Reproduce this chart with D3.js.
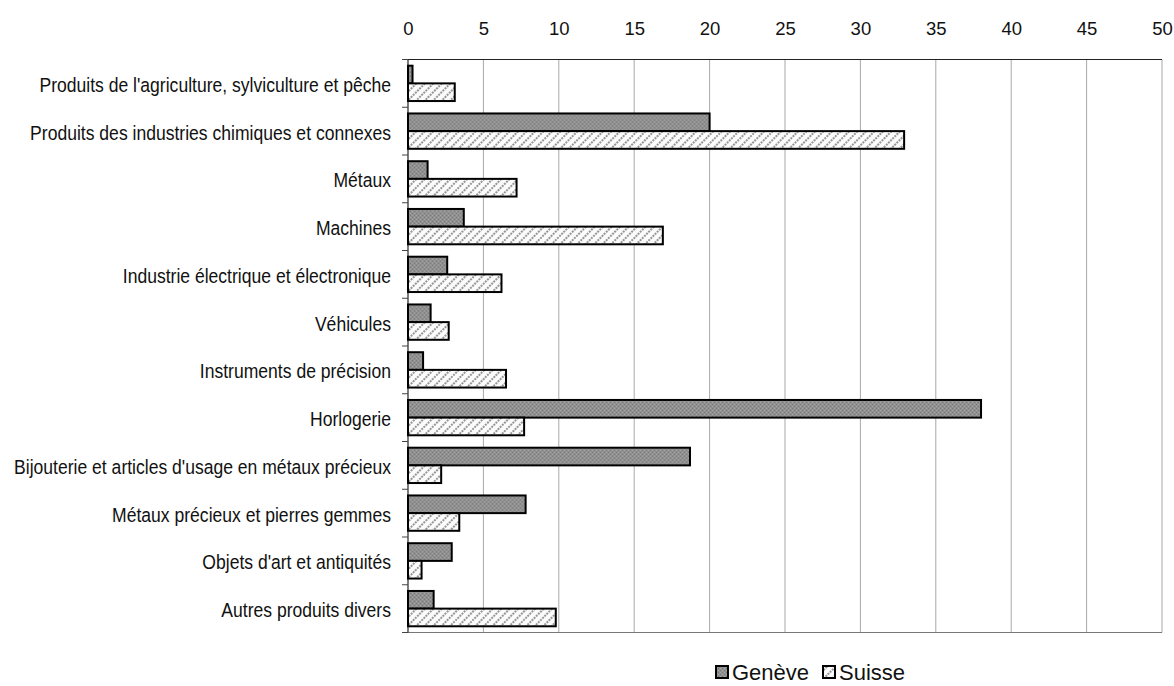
<!DOCTYPE html>
<html>
<head>
<meta charset="utf-8">
<script src="https://cdn.jsdelivr.net/npm/d3@7"></script>
<style>
  body { margin: 0; background: #fff; }
  svg { font-family: "Liberation Sans", Arial, sans-serif; }
</style>
</head>
<body>
<script>

// categories, top to bottom
var categories = [
    "Produits de l'agriculture, sylviculture et pêche",
    "Produits des industries chimiques et connexes",
    "Métaux",
    "Machines",
    "Industrie électrique et électronique",
    "Véhicules",
    "Instruments de précision",
    "Horlogerie",
    "Bijouterie et articles d'usage en métaux précieux",
    "Métaux précieux et pierres gemmes",
    "Objets d'art et antiquités",
    "Autres produits divers"
];
var seriesNames = ["Genève", "Suisse"];
var geneve = [0.3, 20.0, 1.3, 3.7, 2.6, 1.5, 1.0, 38.0, 18.7, 7.8, 2.9, 1.7];
var suisse = [3.1, 32.9, 7.2, 16.9, 6.2, 2.7, 6.5, 7.7, 2.2, 3.4, 0.9, 9.8];
var tickValues = [0, 5, 10, 15, 20, 25, 30, 35, 40, 45, 50];

var W = 1174, H = 686;
var plotLeft = 408, plotRight = 1162, plotTop = 59.5, plotBottom = 632.5;

var svg = d3.select("body").append("svg")
    .attr("width", W)
    .attr("height", H);

// fills: stippled grey for Genève, diagonal hatch for Suisse
var defs = svg.append("defs");
var dots = defs.append("pattern")
    .attr("id", "stipple")
    .attr("patternUnits", "userSpaceOnUse")
    .attr("width", 4).attr("height", 4);
dots.append("rect").attr("width", 4).attr("height", 4).attr("fill", "#909090");
dots.append("rect").attr("x", 0).attr("y", 0).attr("width", 1).attr("height", 1).attr("fill", "#777");
dots.append("rect").attr("x", 2).attr("y", 2).attr("width", 1).attr("height", 1).attr("fill", "#777");
dots.append("rect").attr("x", 2).attr("y", 0).attr("width", 1).attr("height", 1).attr("fill", "#a6a6a6");
dots.append("rect").attr("x", 0).attr("y", 2).attr("width", 1).attr("height", 1).attr("fill", "#a6a6a6");

var hatch = defs.append("pattern")
    .attr("id", "hatch")
    .attr("patternUnits", "userSpaceOnUse")
    .attr("width", 6).attr("height", 6)
    .attr("patternTransform", "rotate(45)");
hatch.append("rect").attr("width", 6).attr("height", 6).attr("fill", "#fbfbfb");
hatch.append("line")
    .attr("x1", 1).attr("y1", 0).attr("x2", 1).attr("y2", 6)
    .attr("stroke", "#555").attr("stroke-width", 1.2)
    .attr("stroke-dasharray", "2,1");

var fills = {"Genève": "url(#stipple)", "Suisse": "url(#hatch)"};

var x = d3.scaleLinear().domain([0, 50]).range([plotLeft, plotRight]);
var y = d3.scaleBand().domain(categories).range([plotTop, plotBottom])
    .paddingInner(0.26).paddingOuter(0.13);
var ySub = d3.scaleBand().domain(seriesNames).range([0, y.bandwidth()]);

// vertical gridlines
svg.append("g")
    .selectAll("line")
    .data(tickValues.slice(1))
    .join("line")
    .attr("x1", d => x(d)).attr("x2", d => x(d))
    .attr("y1", plotTop).attr("y2", plotBottom)
    .attr("stroke", "#a8a8a8")
    .attr("stroke-width", 1);

// top axis
var xAxis = d3.axisTop(x).tickValues(tickValues).tickSize(0).tickPadding(0);
var gx = svg.append("g")
    .attr("transform", "translate(0," + plotTop + ")")
    .call(xAxis);
gx.select(".domain").remove();
gx.selectAll("text")
    .attr("y", -25)
    .attr("font-size", "18.5px")
    .attr("fill", "#111")
    .attr("font-family", "Liberation Sans, Arial, sans-serif");
svg.append("line")
    .attr("x1", plotLeft - 6).attr("x2", plotRight)
    .attr("y1", plotTop).attr("y2", plotTop)
    .attr("stroke", "#222").attr("stroke-width", 1.2);

// bottom border
svg.append("line")
    .attr("x1", plotLeft - 6).attr("x2", plotRight)
    .attr("y1", plotBottom).attr("y2", plotBottom)
    .attr("stroke", "#777").attr("stroke-width", 1.2);

// left axis with category ticks at band edges
svg.append("line")
    .attr("x1", plotLeft).attr("x2", plotLeft)
    .attr("y1", plotTop).attr("y2", plotBottom)
    .attr("stroke", "#222").attr("stroke-width", 1.2);
var step = y.step();
svg.append("g")
    .selectAll("line")
    .data(d3.range(categories.length + 1))
    .join("line")
    .attr("x1", plotLeft - 6).attr("x2", plotLeft)
    .attr("y1", i => plotTop + i * step).attr("y2", i => plotTop + i * step)
    .attr("stroke", "#444").attr("stroke-width", 1);

// category labels (slightly condensed, like the original)
svg.append("g")
    .selectAll("text")
    .data(categories)
    .join("text")
    .attr("transform", d => "translate(" + (plotLeft - 17) + "," + (y(d) + y.bandwidth() / 2 + 8.5) + ") scale(0.9,1)")
    .attr("text-anchor", "end")
    .attr("font-size", "19.5px")
    .attr("fill", "#111")
    .text(d => d);

// bars
var rows = categories.map(function(c, i) {
    return {cat: c, vals: [{s: "Genève", v: geneve[i]}, {s: "Suisse", v: suisse[i]}]};
});

var groups = svg.append("g")
    .selectAll("g")
    .data(rows)
    .join("g")
    .attr("transform", d => "translate(0," + y(d.cat) + ")");

groups.selectAll("rect")
    .data(d => d.vals)
    .join("rect")
    .attr("x", x(0))
    .attr("y", d => ySub(d.s))
    .attr("width", d => x(d.v) - x(0))
    .attr("height", ySub.bandwidth())
    .attr("fill", d => fills[d.s])
    .attr("stroke", "#000")
    .attr("stroke-width", 2);

// legend
var legend = svg.append("g").attr("transform", "translate(716,666)");
var legX = [0, 107];
seriesNames.forEach(function(s, i) {
    legend.append("rect")
        .attr("x", legX[i]).attr("y", 0)
        .attr("width", 12).attr("height", 12)
        .attr("fill", fills[s])
        .attr("stroke", "#000").attr("stroke-width", 2);
    legend.append("text")
        .attr("x", legX[i] + 16)
        .attr("y", 14)
        .attr("font-size", "22px")
        .attr("fill", "#111")
        .text(s);
});

</script>
</body>
</html>
